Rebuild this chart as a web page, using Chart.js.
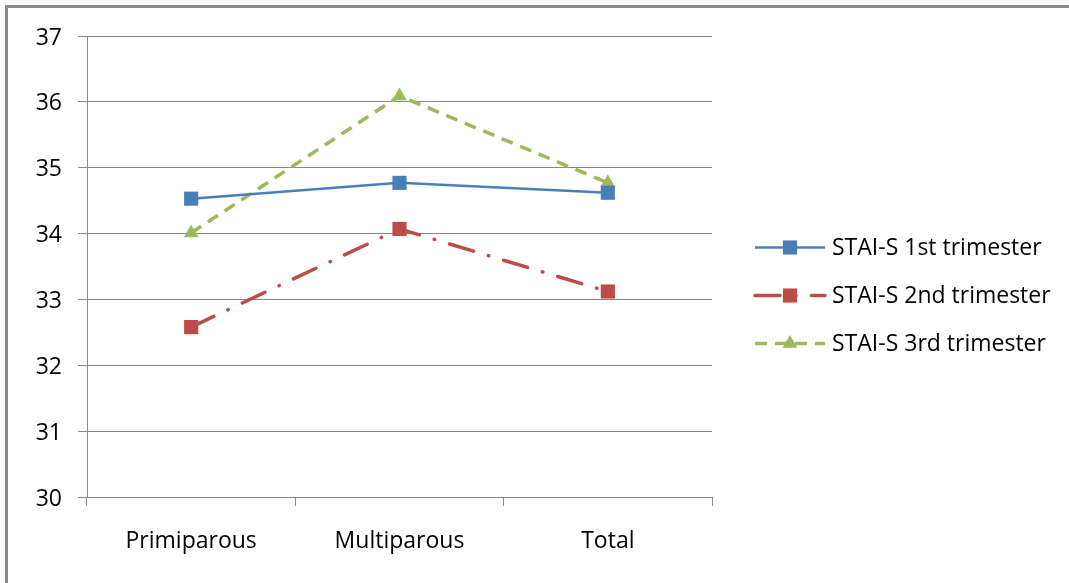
<!DOCTYPE html>
<html>
<head>
<meta charset="utf-8">
<script src="https://cdn.jsdelivr.net/npm/chart.js@4/dist/chart.umd.min.js"></script>
<style>
  html, body { margin: 0; padding: 0; background: #fff; overflow: hidden; }
  canvas { display: block; }
</style>
</head>
<body>
<canvas id="chart" width="1069" height="583"></canvas>
<script>
// STAI-S state anxiety mean scores by parity group and trimester
const categories = ['Primiparous', 'Multiparous', 'Total'];
const seriesNames = ['STAI-S 1st trimester', 'STAI-S 2nd trimester', 'STAI-S 3rd trimester'];
const firstTrimester = [34.53, 34.77, 34.62];
const secondTrimester = [32.58, 34.07, 33.12];
const thirdTrimester = [34.01, 36.09, 34.77];
const yTicks = [30, 31, 32, 33, 34, 35, 36, 37];

const FONT = '"Open Sans", "Liberation Sans", sans-serif';
const FONT_SIZE = 23;
const GRID = '#888888';

// Gray frame on the top and left edges of the figure
const framePlugin = {
  id: 'frame',
  beforeDraw(chart) {
    const ctx = chart.ctx;
    ctx.save();
    ctx.fillStyle = '#ffffff';
    ctx.fillRect(0, 0, chart.width, chart.height);
    ctx.fillStyle = '#8a8a8a';
    ctx.fillRect(5, 5, chart.width - 5, 3);
    ctx.fillRect(5, 5, 3, chart.height - 5);
    ctx.restore();
  }
};

// Legend entries: a short stretch of each series' line with its marker in the middle
const lineLegendPlugin = {
  id: 'lineLegend',
  afterDraw(chart) {
    const ctx = chart.ctx;
    const x0 = 755, x1 = 825, textX = 832;
    const rows = [247.5, 295.5, 343.5];
    ctx.save();
    chart.data.datasets.forEach((ds, i) => {
      const y = rows[i];
      ctx.save();
      ctx.strokeStyle = ds.borderColor;
      ctx.lineWidth = ds.borderWidth;
      ctx.lineCap = ds.borderCapStyle || 'butt';
      ctx.setLineDash(ds.borderDash || []);
      ctx.beginPath();
      ctx.moveTo(x0, y);
      ctx.lineTo(x1, y);
      ctx.stroke();
      ctx.restore();
      ctx.save();
      ctx.fillStyle = ds.pointBackgroundColor;
      ctx.strokeStyle = ds.pointBorderColor;
      Chart.helpers.drawPoint(ctx, {
        pointStyle: ds.pointStyle,
        radius: ds.pointRadius,
        rotation: 0,
        borderWidth: 0
      }, (x0 + x1) / 2, y);
      ctx.restore();
      ctx.fillStyle = '#000000';
      ctx.font = FONT_SIZE + 'px ' + FONT;
      ctx.textAlign = 'left';
      ctx.textBaseline = 'middle';
      ctx.fillText(ds.label, textX, y + 1);
    });
    ctx.restore();
  }
};

const ctx = document.getElementById('chart').getContext('2d');
new Chart(ctx, {
  type: 'line',
  data: {
    labels: categories,
    datasets: [
      {
        label: seriesNames[0],
        data: firstTrimester,
        borderColor: '#4a7ebb',
        borderWidth: 2.5,
        pointStyle: 'rect',
        pointRadius: 10,
        pointBackgroundColor: '#4a7ebb',
        pointBorderColor: '#4a7ebb',
        pointBorderWidth: 0,
        tension: 0
      },
      {
        label: seriesNames[1],
        data: secondTrimester,
        borderColor: '#be4b48',
        borderWidth: 3.5,
        borderDash: [25, 15.5, 0.5, 15.5],
        borderCapStyle: 'round',
        pointStyle: 'rect',
        pointRadius: 10,
        pointBackgroundColor: '#be4b48',
        pointBorderColor: '#be4b48',
        pointBorderWidth: 0,
        tension: 0
      },
      {
        label: seriesNames[2],
        data: thirdTrimester,
        borderColor: '#9bbb59',
        borderWidth: 3.5,
        borderDash: [12, 8],
        borderCapStyle: 'butt',
        pointStyle: 'triangle',
        pointRadius: 8.5,
        pointBackgroundColor: '#9bbb59',
        pointBorderColor: '#9bbb59',
        pointBorderWidth: 0,
        tension: 0
      }
    ]
  },
  options: {
    responsive: false,
    animation: false,
    devicePixelRatio: 1,
    layout: { padding: { left: 0, right: 357, top: 36, bottom: 0 } },
    plugins: {
      legend: { display: false },
      tooltip: { enabled: false }
    },
    scales: {
      x: {
        type: 'category',
        offset: true,
        grid: {
          offset: true,
          drawOnChartArea: false,
          drawTicks: true,
          tickLength: 9,
          color: GRID,
          lineWidth: 1
        },
        border: { display: true, color: GRID, width: 1 },
        ticks: {
          color: '#000000',
          font: { family: FONT, size: FONT_SIZE },
          padding: 22,
          maxRotation: 0
        },
        afterFit(scale) { scale.height = 86; }
      },
      y: {
        min: yTicks[0],
        max: yTicks[yTicks.length - 1],
        afterBuildTicks(scale) {
          scale.ticks = yTicks.map(v => ({ value: v }));
        },
        grid: {
          drawOnChartArea: true,
          drawTicks: true,
          tickLength: 9,
          color: GRID,
          lineWidth: 1
        },
        border: { display: true, color: GRID, width: 1 },
        ticks: {
          color: '#000000',
          font: { family: FONT, size: FONT_SIZE },
          padding: 16,
          labelOffset: 2
        },
        afterFit(scale) { scale.width = 87; }
      }
    }
  },
  plugins: [framePlugin, lineLegendPlugin]
});
</script>
</body>
</html>
